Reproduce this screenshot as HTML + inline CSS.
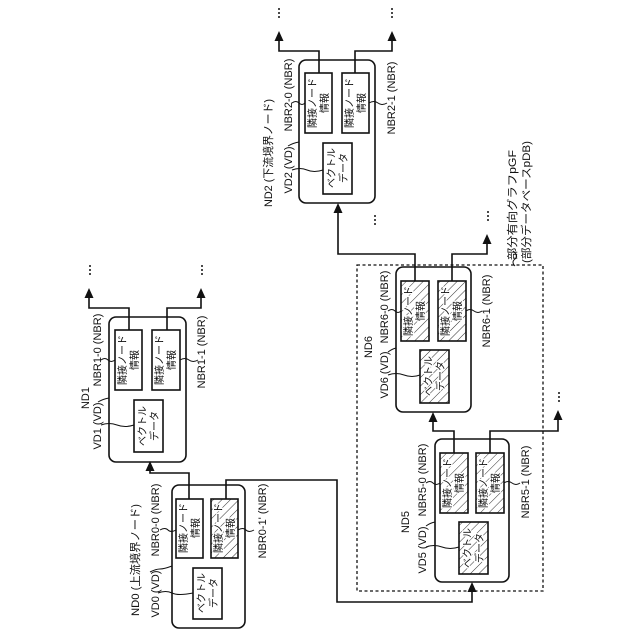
<!DOCTYPE html>
<html><head><meta charset="utf-8"><style>
html,body{margin:0;padding:0;background:#fff;}
svg{display:block;}
text{font-family:"Liberation Sans","Noto Sans CJK JP",sans-serif;fill:#111;}
.l{font-size:11px;}
.b{font-size:10px;}
.h{paint-order:stroke;stroke:#fff;stroke-width:2.5px;}
</style></head><body>
<svg width="640" height="640" viewBox="0 0 640 640" xmlns="http://www.w3.org/2000/svg">
<defs>
<pattern id="hat" patternUnits="userSpaceOnUse" width="6" height="6" patternTransform="rotate(45)">
<line x1="0" y1="0" x2="0" y2="6" stroke="#333" stroke-width="1"/>
</pattern>
</defs>
<g fill="none" stroke="#111" stroke-width="1.6">
<rect x="357" y="265" width="186" height="326" stroke-dasharray="3,2.5" stroke-width="1.3"/>
<rect x="172" y="485" width="73" height="143" rx="7"/>
<rect x="109" y="317" width="77" height="145" rx="7"/>
<rect x="299" y="60" width="76" height="143" rx="7"/>
<rect x="396" y="267" width="75" height="145" rx="7"/>
<rect x="435" y="439" width="74" height="143" rx="7"/>
</g>
<g stroke="#111" stroke-width="1.6">
<rect x="176" y="499" width="27" height="59" fill="#fff"/>
<rect x="211" y="499" width="27" height="59" fill="url(#hat)"/>
<rect x="193" y="568" width="29" height="51" fill="#fff"/>
<rect x="115" y="330" width="27" height="60" fill="#fff"/>
<rect x="152" y="330" width="28" height="60" fill="#fff"/>
<rect x="134" y="400" width="29" height="52" fill="#fff"/>
<rect x="305" y="73" width="27" height="60" fill="#fff"/>
<rect x="342" y="73" width="27" height="60" fill="#fff"/>
<rect x="323" y="143" width="29" height="51" fill="#fff"/>
<rect x="401" y="281" width="28" height="60" fill="url(#hat)"/>
<rect x="438" y="281" width="28" height="60" fill="url(#hat)"/>
<rect x="420" y="350" width="29" height="53" fill="url(#hat)"/>
<rect x="440" y="453" width="28" height="60" fill="url(#hat)"/>
<rect x="476" y="453" width="28" height="60" fill="url(#hat)"/>
<rect x="459" y="522" width="29" height="52" fill="url(#hat)"/>
</g>
<g fill="none" stroke="#111" stroke-width="1.6">
<polyline points="189,499 189,473 150,473 150,466"/>
<polyline points="226,499 226,480 337,480 337,602 472,602 472,588"/>
<polyline points="129,330 129,308 89,308 89,294"/>
<polyline points="167,330 167,308 201,308 201,294"/>
<polyline points="319,73 319,51 279,51 279,37"/>
<polyline points="355,73 355,51 392,51 392,37"/>
<polyline points="415,281 415,254 338,254 338,208"/>
<polyline points="452,281 452,254 487,254 487,240"/>
<polyline points="454,453 454,431 433,431 433,417"/>
<polyline points="490,453 490,431 558,431 558,416"/>
</g>
<g fill="#111">
<polygon points="150,461 145.5,471 154.5,471"/>
<polygon points="472,582 467.5,592 476.5,592"/>
<polygon points="89,288 84.5,298 93.5,298"/>
<polygon points="201,288 196.5,298 205.5,298"/>
<polygon points="279,31 274.5,41 283.5,41"/>
<polygon points="392,31 387.5,41 396.5,41"/>
<polygon points="338,203 333.5,213 342.5,213"/>
<polygon points="487,234 482.5,244 491.5,244"/>
<polygon points="433,412 428.5,422 437.5,422"/>
<polygon points="558,410 553.5,420 562.5,420"/>
<circle cx="90" cy="266" r="1"/><circle cx="90" cy="270" r="1"/><circle cx="90" cy="274" r="1"/>
<circle cx="202" cy="266" r="1"/><circle cx="202" cy="270" r="1"/><circle cx="202" cy="274" r="1"/>
<circle cx="279" cy="9" r="1"/><circle cx="279" cy="13" r="1"/><circle cx="279" cy="17" r="1"/>
<circle cx="392" cy="9" r="1"/><circle cx="392" cy="13" r="1"/><circle cx="392" cy="17" r="1"/>
<circle cx="375" cy="216" r="1"/><circle cx="375" cy="220" r="1"/><circle cx="375" cy="224" r="1"/>
<circle cx="488" cy="212" r="1"/><circle cx="488" cy="216" r="1"/><circle cx="488" cy="220" r="1"/>
<circle cx="559" cy="393" r="1"/><circle cx="559" cy="397" r="1"/><circle cx="559" cy="401" r="1"/>
</g>
<g fill="none" stroke="#111" stroke-width="1">
<path d="M158,593 q8,-3 14,0 t21,0"/>
<path d="M150,572 q6,-3 10,-3 t12,-3"/>
<path d="M160,530 q5,-3 8,0 t8,0"/>
<path d="M238,530 q5,-3 8,0 t8,0"/>
<path d="M101,425 q8,-3 16,0 t17,0"/>
<path d="M98,402 q5,-3 11,-4"/>
<path d="M101,360 q4,-3 7,0 t7,0"/>
<path d="M180,360 q5,-3 9,0 t9,0"/>
<path d="M292,170 q8,-3 15,0 t16,0"/>
<path d="M288,146 q5,-3 11,-4"/>
<path d="M292,103 q4,-3 7,0 t6,0"/>
<path d="M369,103 q5,-3 9,0 t9,0"/>
<path d="M388,375 q8,-3 16,0 t16,0"/>
<path d="M388,352 q4,-3 8,-4"/>
<path d="M388,311 q4,-3 7,0 t6,0"/>
<path d="M466,311 q4,-3 8,0 t8,0"/>
<path d="M426,547 q8,-3 16,0 t17,0"/>
<path d="M426,526 q4,-3 9,-4"/>
<path d="M426,483 q4,-3 7,0 t7,0"/>
<path d="M504,483 q4,-3 8,0 t8,0"/>
<path d="M515,266 q-4,-4 0,-7 t-2,-8"/>
</g>
<g class="l" text-anchor="middle">
<text x="139" y="560" transform="rotate(-90 139 560)" textLength="112" lengthAdjust="spacingAndGlyphs">ND0 (上流境界ノード)</text>
<text x="159" y="594" transform="rotate(-90 159 594)">VD0 (VD)</text>
<text x="159" y="520" transform="rotate(-90 159 520)">NBR0-0 (NBR)</text>
<text x="266" y="521" transform="rotate(-90 266 521)">NBR0-1' (NBR)</text>
<text x="89" y="398" transform="rotate(-90 89 398)">ND1</text>
<text x="101" y="426" transform="rotate(-90 101 426)">VD1 (VD)</text>
<text x="101" y="350" transform="rotate(-90 101 350)">NBR1-0 (NBR)</text>
<text x="205" y="352" transform="rotate(-90 205 352)">NBR1-1 (NBR)</text>
<text x="272" y="153" transform="rotate(-90 272 153)" textLength="108" lengthAdjust="spacingAndGlyphs">ND2 (下流境界ノード)</text>
<text x="292" y="170" transform="rotate(-90 292 170)">VD2 (VD)</text>
<text x="292" y="95" transform="rotate(-90 292 95)">NBR2-0 (NBR)</text>
<text x="395" y="98" transform="rotate(-90 395 98)">NBR2-1 (NBR)</text>
<text x="372" y="347" transform="rotate(-90 372 347)">ND6</text>
<text x="388" y="375" transform="rotate(-90 388 375)">VD6 (VD)</text>
<text x="388" y="307" transform="rotate(-90 388 307)">NBR6-0 (NBR)</text>
<text x="490" y="311" transform="rotate(-90 490 311)">NBR6-1 (NBR)</text>
<text x="409" y="522" transform="rotate(-90 409 522)">ND5</text>
<text x="426" y="550" transform="rotate(-90 426 550)">VD5 (VD)</text>
<text x="426" y="480" transform="rotate(-90 426 480)">NBR5-0 (NBR)</text>
<text x="529" y="482" transform="rotate(-90 529 482)">NBR5-1 (NBR)</text>
<text x="516" y="205" transform="rotate(-90 516 205)" textLength="110" lengthAdjust="spacingAndGlyphs">部分有向グラフpGF</text>
<text x="530" y="202" transform="rotate(-90 530 202)" textLength="122" lengthAdjust="spacingAndGlyphs">(部分データベースpDB)</text>
</g>
<g class="b" text-anchor="middle">
<text x="187" y="528" transform="rotate(-90 187 528)">隣接ノード</text><text x="199" y="528" transform="rotate(-90 199 528)">情報</text>
<text x="222" y="528" class="h" transform="rotate(-90 222 528)">隣接ノード</text><text x="234" y="528" class="h" transform="rotate(-90 234 528)">情報</text>
<text x="205" y="593" transform="rotate(-90 205 593)">ベクトル</text><text x="217" y="593" transform="rotate(-90 217 593)">データ</text>
<text x="126" y="360" transform="rotate(-90 126 360)">隣接ノード</text><text x="138" y="360" transform="rotate(-90 138 360)">情報</text>
<text x="163" y="360" transform="rotate(-90 163 360)">隣接ノード</text><text x="175" y="360" transform="rotate(-90 175 360)">情報</text>
<text x="146" y="426" transform="rotate(-90 146 426)">ベクトル</text><text x="158" y="426" transform="rotate(-90 158 426)">データ</text>
<text x="316" y="103" transform="rotate(-90 316 103)">隣接ノード</text><text x="328" y="103" transform="rotate(-90 328 103)">情報</text>
<text x="353" y="103" transform="rotate(-90 353 103)">隣接ノード</text><text x="365" y="103" transform="rotate(-90 365 103)">情報</text>
<text x="335" y="168" transform="rotate(-90 335 168)">ベクトル</text><text x="347" y="168" transform="rotate(-90 347 168)">データ</text>
<text x="412" y="311" class="h" transform="rotate(-90 412 311)">隣接ノード</text><text x="424" y="311" class="h" transform="rotate(-90 424 311)">情報</text>
<text x="449" y="311" class="h" transform="rotate(-90 449 311)">隣接ノード</text><text x="461" y="311" class="h" transform="rotate(-90 461 311)">情報</text>
<text x="432" y="376" class="h" transform="rotate(-90 432 376)">ベクトル</text><text x="444" y="376" class="h" transform="rotate(-90 444 376)">データ</text>
<text x="451" y="483" class="h" transform="rotate(-90 451 483)">隣接ノード</text><text x="463" y="483" class="h" transform="rotate(-90 463 483)">情報</text>
<text x="487" y="483" class="h" transform="rotate(-90 487 483)">隣接ノード</text><text x="499" y="483" class="h" transform="rotate(-90 499 483)">情報</text>
<text x="471" y="548" class="h" transform="rotate(-90 471 548)">ベクトル</text><text x="483" y="548" class="h" transform="rotate(-90 483 548)">データ</text>
</g>
</svg>
</body></html>
